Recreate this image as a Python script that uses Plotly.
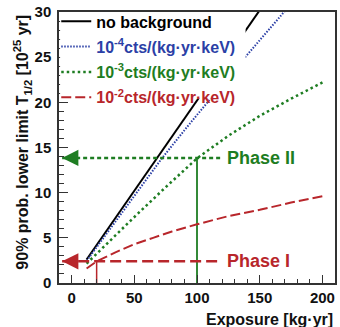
import plotly.graph_objects as go

# ---- data ----
nobg_x = [12, 50, 100, 150]
nobg_y = [2.6, 10.2, 20.2, 30.2]

bg4_x = [12, 40, 72, 94, 110, 139, 170]
bg4_y = [2.45, 7.8, 13.8, 17.6, 20.3, 25.1, 30.1]

bg3_x = [12, 30, 50, 75, 100, 125, 150, 175, 200]
bg3_y = [2.15, 4.6, 7.3, 10.6, 13.8, 16.3, 18.5, 20.4, 22.2]

bg2_x = [12, 20, 35, 50, 65, 80, 100, 125, 150, 175, 200]
bg2_y = [1.6, 2.4, 3.4, 4.3, 5.0, 5.7, 6.5, 7.4, 8.1, 8.9, 9.6]

phase1_exposure, phase1_limit = 20, 2.4
phase2_exposure, phase2_limit = 100, 13.85
guide_start, guide_end = -7.5, 120

legend_names = [
    "no background",
    "10<sup>-4</sup>cts/(kg·yr·keV)",
    "10<sup>-3</sup>cts/(kg·yr·keV)",
    "10<sup>-2</sup>cts/(kg·yr·keV)",
]

BLACK = "#000000"
BLUE = "#2b3fa6"
GREEN = "#1e7d22"
RED = "#b8262b"
FONT = "Liberation Sans"

fig = go.Figure()

# guide lines (not in legend)
fig.add_trace(go.Scatter(x=[phase1_exposure, phase1_exposure], y=[0, phase1_limit], mode="lines",
                         line=dict(color=RED, width=1.5), showlegend=False, hoverinfo="skip"))
fig.add_trace(go.Scatter(x=[phase2_exposure, phase2_exposure], y=[0, phase2_limit], mode="lines",
                         line=dict(color=GREEN, width=1.8), showlegend=False, hoverinfo="skip"))

curves = [
    (nobg_x, nobg_y, BLACK, 2, "solid", legend_names[0]),
    (bg4_x, bg4_y, BLUE, 2, "1.5px,1.5px", legend_names[1]),
    (bg3_x, bg3_y, GREEN, 2.5, "2.5px,3px", legend_names[2]),
    (bg2_x, bg2_y, RED, 2, "10px,4px", legend_names[3]),
]
for i, (xs, ys, col, w, dash, name) in enumerate(curves):
    fig.add_trace(go.Scatter(
        x=xs, y=ys, mode="lines", line=dict(color=col, width=w, dash=dash),
        name=f"<span style='color:{col}'>{name}</span>", legendgroup=f"g{i}",
        hoverinfo="skip"))

fig.add_trace(go.Scatter(x=[guide_start, guide_end], y=[phase2_limit, phase2_limit], mode="lines",
                         line=dict(color=GREEN, width=2.5, dash="4px,3px"), showlegend=False, hoverinfo="skip"))
fig.add_trace(go.Scatter(x=[guide_start, guide_end], y=[phase1_limit, phase1_limit], mode="lines",
                         line=dict(color=RED, width=2.5, dash="11px,5px"), showlegend=False, hoverinfo="skip"))

ann = []
for lim, col in [(phase2_limit, GREEN), (phase1_limit, RED)]:
    ann.append(dict(x=guide_start, y=lim, xref="x", yref="y", ax=14, ay=0, text="",
                    showarrow=True, arrowhead=2, arrowsize=1.3, arrowwidth=2.5, arrowcolor=col))
ann.append(dict(x=guide_end, y=phase2_limit, xref="x", yref="y", text="Phase II", showarrow=False,
                xanchor="left", yanchor="middle", xshift=3,
                font=dict(family=FONT, size=18, color=GREEN, weight="bold")))
ann.append(dict(x=guide_end, y=phase1_limit, xref="x", yref="y", text="Phase I", showarrow=False,
                xanchor="left", yanchor="middle", xshift=3,
                font=dict(family=FONT, size=18, color=RED, weight="bold")))
ann.append(dict(x=1, y=-0.136, xref="paper", yref="paper", text="Exposure [kg·yr]", showarrow=False,
                xanchor="right", yanchor="middle",
                font=dict(family=FONT, size=16, color="#111", weight="bold")))
ann.append(dict(x=-0.132, y=0.52, xref="paper", yref="paper",
                text="90% prob. lower limit T<sub>1/2</sub> [10<sup>25</sup> yr]", showarrow=False,
                textangle=-90, xanchor="center", yanchor="middle",
                font=dict(family=FONT, size=16, color="#111", weight="bold")))

axis_common = dict(showline=True, mirror=True, linecolor="#333", linewidth=1.5,
                   showgrid=False, zeroline=False, ticks="inside", tickcolor="#333",
                   tickfont=dict(family=FONT, size=15, color="#111", weight="bold"))

fig.update_layout(
    width=340, height=327,
    margin=dict(l=59, r=3, t=11, b=44),
    plot_bgcolor="white", paper_bgcolor="white",
    font=dict(family=FONT, weight="bold"),
    xaxis=dict(range=[-10, 210], tickvals=[0, 50, 100, 150, 200], ticklen=8, tickwidth=1,
               minor=dict(dtick=10, tick0=0, ticklen=4, ticks="inside", tickcolor="#333"),
               **axis_common),
    yaxis=dict(range=[0, 30], tickvals=[0, 5, 10, 15, 20, 25, 30], ticklen=9, tickwidth=1,
               minor=dict(dtick=1, tick0=0, ticklen=5, ticks="inside", tickcolor="#333"),
               ticklabelstandoff=3, **axis_common),
    legend=dict(x=-0.01, y=1.028, xanchor="left", yanchor="top", bgcolor="rgba(0,0,0,0)",
                borderwidth=0, font=dict(family=FONT, size=16, weight="bold"),
                tracegroupgap=1.5),
    shapes=[dict(type="rect", xref="paper", yref="paper", x0=0.004, x1=0.676, y0=0.68, y1=0.995,
                 fillcolor="white", line=dict(width=0), layer="above")],
    annotations=ann,
    showlegend=True,
)

fig.write_html("out.html")
